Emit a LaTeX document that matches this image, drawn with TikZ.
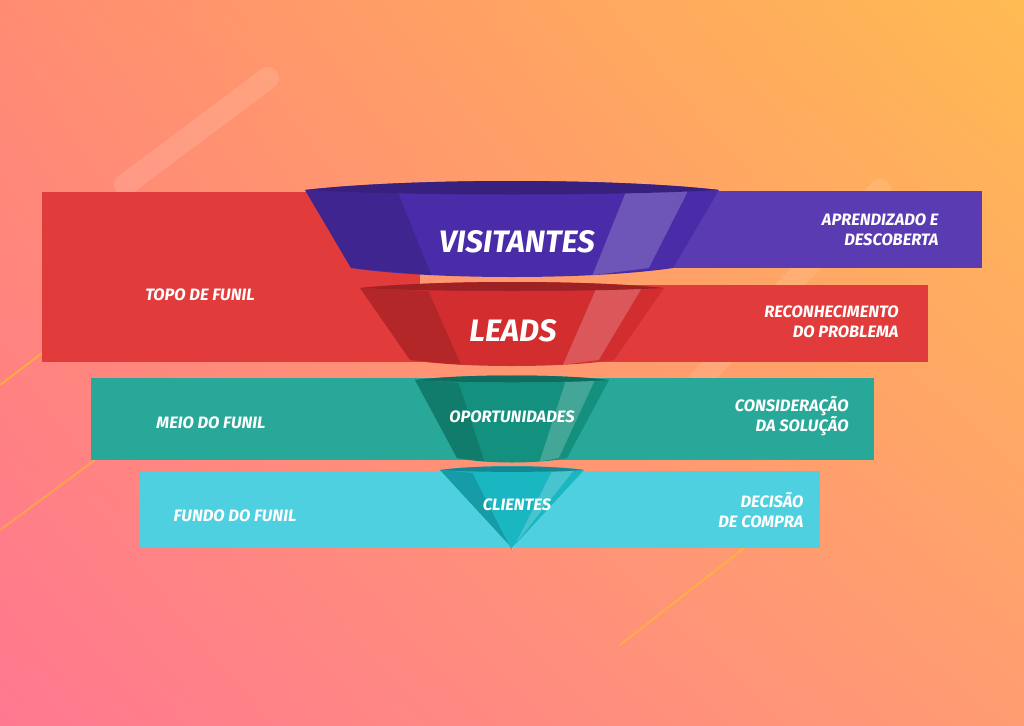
\documentclass[tikz,border=0pt]{standalone}
\usepackage{fontspec}
\setmainfont{Fira Sans}
\usepackage{tikz}
\usetikzlibrary{shadings}

\definecolor{bgul}{HTML}{FF8C72}
\definecolor{bgur}{HTML}{FFBB52}
\definecolor{bgll}{HTML}{FF7890}
\definecolor{bglr}{HTML}{FF9C72}
\definecolor{visband}{HTML}{5A3BB2}
\definecolor{visfun}{HTML}{4A2CA8}
\definecolor{leadband}{HTML}{E23B3B}
\definecolor{leadfun}{HTML}{D22E30}
\definecolor{opband}{HTML}{28A898}
\definecolor{opfun}{HTML}{14907E}
\definecolor{cliband}{HTML}{4FD0E0}
\definecolor{clifun}{HTML}{1AB6C2}

\tikzset{
  label/.style={text=white,font=\fontsize{16.5}{20}\selectfont\bfseries\itshape},
  rlabel/.style={label,align=right,anchor=east},
  title/.style={text=white,font=\fontsize{31}{35}\selectfont\bfseries\itshape}
}

% colour, centre x, top half width, bottom half width, top y, bottom y, bulge
\newcommand{\funpart}[7]{%
  \fill[#1] ({#2-#3},#5) .. controls ({#2-#3/2},{#5-#7}) and ({#2+#3/2},{#5-#7}) .. ({#2+#3},#5)
    -- ({#2+#4},#6) .. controls ({#2+#4/2},{#6+#7}) and ({#2-#4/2},{#6+#7}) .. ({#2-#4},#6) -- cycle;
  \fill[black,opacity=.14] ({#2-#3},#5) -- ({#2-#3*0.55},{#5+3}) -- ({#2-#4*0.5},{#6+#7*0.6}) -- ({#2-#4},#6) -- cycle;
  \fill[white,opacity=.2] ({#2+#3*0.55},{#5+2}) -- ({#2+#3*0.85},{#5+1}) -- ({#2+#4*0.85},#6) -- ({#2+#4*0.5},{#6+#7*0.6}) -- cycle;
  \fill[#1!75!black] ({#2-#3},#5) .. controls ({#2-#3/2},{#5-#7}) and ({#2+#3/2},{#5-#7}) .. ({#2+#3},#5)
    .. controls ({#2+#3/2},{#5+#7*0.5}) and ({#2-#3/2},{#5+#7*0.5}) .. cycle;
}

\begin{document}
\begin{tikzpicture}[x=1pt,y=-1pt]
	\useasboundingbox (0,0) rectangle (1024,725);
	% background
	\shade[upper left=bgul,upper right=bgur,lower left=bgll,lower right=bglr] (0,0) rectangle (1024,725);
	\draw[white,opacity=.12,line width=22pt,line cap=round] (125,185) -- (268,78);
	\draw[white,opacity=.10,line width=22pt,line cap=round] (700,380) -- (880,190);
	\draw[yellow!70!orange,opacity=.5,line width=2pt] (0,385) -- (125,290);
	\draw[yellow!70!orange,opacity=.4,line width=2pt] (0,530) -- (95,460);
	\draw[yellow!70!orange,opacity=.4,line width=2pt] (620,645) -- (780,520);

	% bands
	\fill[visband] (600,191) rectangle (982,268);
	\fill[leadband] (42,192) rectangle (420,362);
	\fill[leadband] (42,285) rectangle (928,362);
	\fill[opband] (91,378) rectangle (874,460);
	\fill[cliband] (139,471) rectangle (820,548);

	% funnel
	\funpart{visfun}{512}{207}{161}{190}{268}{12}
	\funpart{leadfun}{512}{152}{102}{288}{360}{8}
	\funpart{opfun}{512}{97}{55}{380}{458}{6}
	\funpart{clifun}{512}{72}{0}{470}{548}{5}

	% titles
	\node[title] (visitantes) at (517,242) {VISITANTES};
	\node[title] (leads) at (513,331) {LEADS};
	\node[label] (oportunidades) at (512,417) {OPORTUNIDADES};
	\node[label] (clientes) at (517,505) {CLIENTES};

	% left labels
	\node[label] (topo) at (200,295) {TOPO DE FUNIL};
	\node[label] (meio) at (211,423) {MEIO DO FUNIL};
	\node[label] (fundo) at (235,516) {FUNDO DO FUNIL};

	% right labels
	\node[rlabel] (aprendizado) at (942,230) {APRENDIZADO E\\DESCOBERTA};
	\node[rlabel] (reconhecimento) at (902,322) {RECONHECIMENTO\\DO PROBLEMA};
	\node[rlabel] (consideracao) at (852,416) {CONSIDERAÇÃO\\DA SOLUÇÃO};
	\node[rlabel] (decisao) at (807,510) {DECISÃO\\DE COMPRA};
\end{tikzpicture}
\end{document}
